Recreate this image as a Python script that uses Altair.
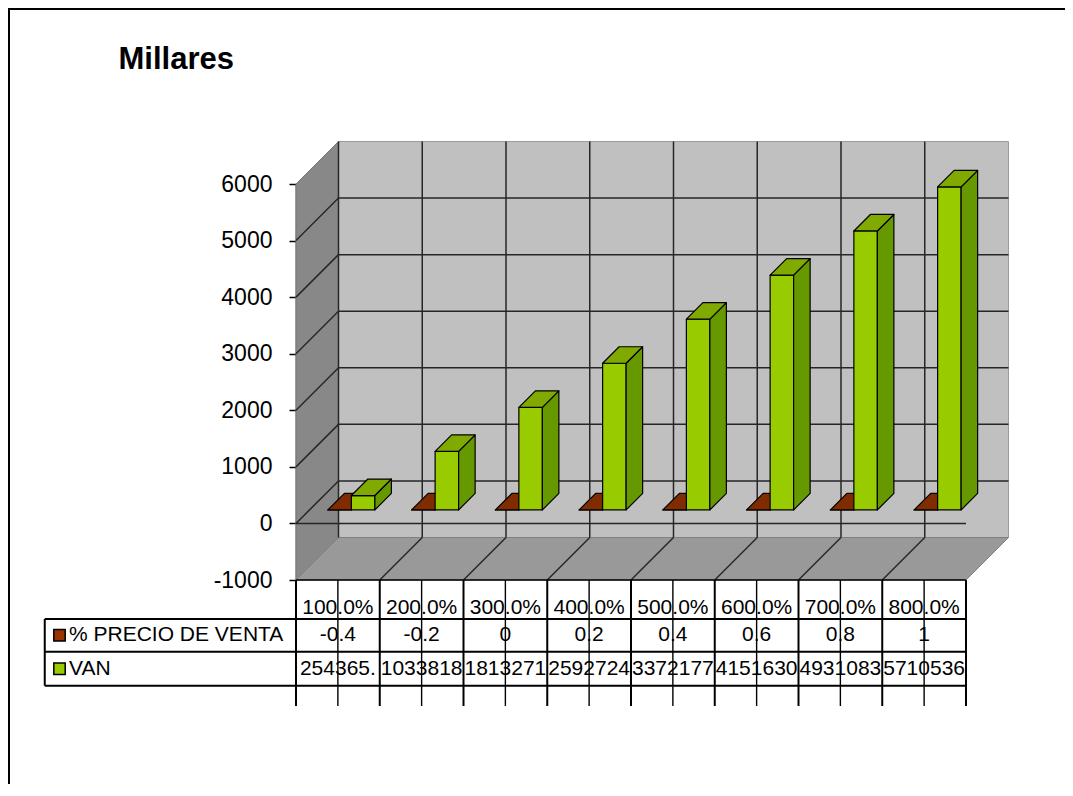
import altair as alt
import pandas as pd

# ---------------- data ----------------
categories = ["100.0%", "200.0%", "300.0%", "400.0%", "500.0%", "600.0%", "700.0%", "800.0%"]
precio_venta = [-0.4, -0.2, 0, 0.2, 0.4, 0.6, 0.8, 1]
precio_labels = ["-0.4", "-0.2", "0", "0.2", "0.4", "0.6", "0.8", "1"]
van = [254365, 1033818, 1813271, 2592724, 3372177, 4151630, 4931083, 5710536]
van_labels = ["254365.", "1033818", "1813271", "2592724", "3372177", "4151630", "4931083", "5710536"]
series_names = ["% PRECIO DE VENTA", "VAN"]
y_ticks = [-1000, 0, 1000, 2000, 3000, 4000, 5000, 6000]
display_unit = 1000
axis_title = "Millares"

# ---------------- style / layout ----------------
front_colors = ["#993300", "#99CC00"]
top_colors = ["#802B00", "#80AA00"]
side_colors = ["#662200", "#669900"]
FONT = "Liberation Sans"

W, H = 1057, 776
X_RANGE = [288, 958]
Y_RANGE = [572, 176]
n = len(categories)
y_min, y_max = y_ticks[0], y_ticks[-1]
col_px = (X_RANGE[1] - X_RANGE[0]) / n
unit_px = (Y_RANGE[0] - Y_RANGE[1]) / (y_max - y_min)
DEPTH = 42.5
DX = DEPTH / col_px
DY = DEPTH / unit_px
BAR_FRONT = 13.5 / DEPTH
BAR_BACK = 30.0 / DEPTH
BAR_W = 23.5 / col_px
LEGEND_COLS = 3

xs = alt.Scale(domain=[0, n], range=X_RANGE, nice=False, zero=False)
ys = alt.Scale(domain=[y_min, y_max], range=Y_RANGE, nice=False, zero=False)

y_axis = alt.Axis(
    values=y_ticks, orient="left", offset=-X_RANGE[0], grid=False,
    domain=True, domainColor="black", domainWidth=1.5,
    ticks=True, tickSize=7, tickColor="black", tickWidth=1.5,
    labelFontSize=23, labelColor="black", labelPadding=17, labelFont=FONT,
    labelExpr="'' + datum.value",
    title=axis_title, titleAngle=0, titleAlign="left", titleBaseline="alphabetic",
    titleX=-178, titleY=60, titleFontSize=31, titleFontWeight="bold",
    titleColor="black", titleFont=FONT,
)


def X(f):
    return alt.X(f, type="quantitative", scale=xs, axis=None)


def Y(f):
    return alt.Y(f, type="quantitative", scale=ys, axis=y_axis)


def YD(v):
    return alt.YDatum(v, type="quantitative", scale=ys, axis=y_axis)


# ---------------- walls ----------------
back_df = pd.DataFrame({"x": [DX], "x2": [n + DX], "y": [y_min + DY], "y2": [y_max + DY]})
side_df = pd.DataFrame({"x": [0, DX], "y": [y_max, y_max + DY], "y2": [y_min, y_min + DY]})
floor_df = pd.DataFrame({
    "x": [0, DX, n, n + DX],
    "y": [y_min, y_min + DY, y_min + DY, y_min + DY],
    "y2": [y_min, y_min, y_min, y_min + DY],
})

back = alt.Chart(back_df).mark_rect(fill="#C0C0C0", stroke="#9a9a9a", strokeWidth=1).encode(
    x=X("x"), x2=alt.X2("x2"), y=Y("y"), y2=alt.Y2("y2"))
side = alt.Chart(side_df).mark_area(orient="vertical", fill="#888888", stroke="#777777", strokeWidth=1,
                                    fillOpacity=1).encode(
    x=X("x"), y=Y("y"), y2=alt.Y2("y2"))
floor = alt.Chart(floor_df).mark_area(orient="vertical", fill="#999999", stroke="#808080", strokeWidth=1,
                                      fillOpacity=1).encode(
    x=X("x"), y=Y("y"), y2=alt.Y2("y2"))

# ---------------- gridlines ----------------
g = []
for v in y_ticks[1:-1]:
    g.append((DX, v + DY, n + DX, v + DY))      # back wall horizontal
    g.append((0, v, DX, v + DY))                # side wall diagonal
for k in range(n):
    g.append((k + DX, y_min + DY, k + DX, y_max + DY))  # back wall vertical
for k in range(1, n):
    g.append((k, y_min, k + DX, y_min + DY))    # floor diagonal
g.append((0, 0, n, 0))                          # front zero line
grid_df = pd.DataFrame(g, columns=["x", "y", "x2", "y2"])
grid = alt.Chart(grid_df).mark_rule(color="#262626", strokeWidth=1.5).encode(
    x=X("x"), x2=alt.X2("x2"), y=Y("y"), y2=alt.Y2("y2"))

# ---------------- 3D bars ----------------
face_domain, face_range = [], []
for s, name in enumerate(series_names):
    for face, cols in (("front", front_colors), ("side", side_colors), ("top", top_colors)):
        face_domain.append(f"{s}-{face}")
        face_range.append(cols[s])


def bar_rows(s, values):
    rows = []
    ddx = (BAR_BACK - BAR_FRONT) * DX
    ddy = (BAR_BACK - BAR_FRONT) * DY
    for k, val in enumerate(values):
        v = val / display_unit
        c = k + 0.5
        xl = (c - BAR_W if s == 0 else c) + BAR_FRONT * DX
        xr = xl + BAR_W
        base = BAR_FRONT * DY
        top = v + base
        faces = {
            "front": [(xl, top, base), (xr, top, base)],
            "side": [(xr, top, base), (xr + ddx, top + ddy, base + ddy)],
            "top": [(xl, top, top), (xl + ddx, top + ddy, top),
                     (xr, top + ddy, top), (xr + ddx, top + ddy, top + ddy)],
        }
        for face, pts in faces.items():
            for (x, y, y2) in pts:
                rows.append({"shape": f"{s}-{k}-{face}", "face": f"{s}-{face}",
                             "x": x, "y": y, "y2": y2})
    return pd.DataFrame(rows)


def bars(s, values):
    return alt.Chart(bar_rows(s, values)).mark_area(
        orient="vertical", stroke="black", strokeWidth=1.2, strokeJoin="round", fillOpacity=1
    ).encode(
        x=X("x"), y=Y("y"), y2=alt.Y2("y2"),
        detail="shape:N",
        fill=alt.Fill("face:N", scale=alt.Scale(domain=face_domain, range=face_range), legend=None),
    )


bars_precio = bars(0, precio_venta)
bars_van = bars(1, van)

# ---------------- data table ----------------
ROW_HDR, ROW1, ROW2 = 599.5, 627.3, 660.7
LINES_Y = [611, 643.7, 677.7]
TABLE_BOTTOM = 698

vert_rows = [{"x": k, "w": 2.0} for k in range(n + 1)] + [{"x": k + 0.5, "w": 1.4} for k in range(n)]
vert_df = pd.DataFrame(vert_rows)
table_vert = alt.Chart(vert_df).mark_rule(color="black").encode(
    x=X("x"), y=YD(y_min), y2=alt.value(TABLE_BOTTOM),
    strokeWidth=alt.StrokeWidth("w:Q", scale=None))

cat_axis_line = alt.Chart(pd.DataFrame({"x": [0], "x2": [n]})).mark_rule(color="black", strokeWidth=1.5).encode(
    x=X("x"), x2=alt.X2("x2"), y=YD(y_min))

table_h = [
    alt.Chart(pd.DataFrame({"x": [-LEGEND_COLS], "x2": [n]})).mark_rule(color="black", strokeWidth=2).encode(
        x=X("x"), x2=alt.X2("x2"), y=alt.value(py))
    for py in LINES_Y
]
legend_left = alt.Chart(pd.DataFrame({"x": [-LEGEND_COLS]})).mark_rule(color="black", strokeWidth=2).encode(
    x=X("x"), y=alt.value(LINES_Y[0]), y2=alt.value(LINES_Y[2]))

tbl_df = pd.DataFrame({"c": [k + 0.5 for k in range(n)], "cat": categories,
                       "p": precio_labels, "v": van_labels})
txt = dict(fontSize=21, font=FONT, color="black", align="center", baseline="middle")
hdr_text = alt.Chart(tbl_df).mark_text(**txt).encode(x=X("c"), y=alt.value(ROW_HDR), text="cat:N")
p_text = alt.Chart(tbl_df).mark_text(**txt).encode(x=X("c"), y=alt.value(ROW1), text="p:N")
v_text = alt.Chart(tbl_df).mark_text(**txt).encode(x=X("c"), y=alt.value(ROW2), text="v:N")

leg_layers = []
for s, (name, ry) in enumerate(zip(series_names, [ROW1, ROW2])):
    ldf = pd.DataFrame({"name": [name]})
    leg_layers.append(alt.Chart(ldf).mark_square(size=130, fill=front_colors[s], stroke="black",
                                                 strokeWidth=1.5, opacity=1).encode(
        x=alt.value(51.5), y=alt.value(ry)))
    leg_layers.append(alt.Chart(ldf).mark_text(fontSize=21, font=FONT, color="black", align="left",
                                               baseline="middle").encode(
        x=alt.value(61), y=alt.value(ry), text="name:N"))

# ---------------- outer frame ----------------
one = pd.DataFrame({"d": [0]})
frame_left = alt.Chart(one).mark_rule(color="black", strokeWidth=2).encode(
    x=alt.value(1), y=alt.value(0), y2=alt.value(H))
frame_top = alt.Chart(one).mark_rule(color="black", strokeWidth=2).encode(
    y=alt.value(1), x=alt.value(0), x2=alt.value(W))

chart = alt.layer(
    back, side, floor, grid, bars_precio, bars_van,
    table_vert, cat_axis_line, *table_h, legend_left,
    hdr_text, p_text, v_text, *leg_layers, frame_left, frame_top,
).properties(
    width=W, height=H, autosize=alt.AutoSizeParams(type="none"), padding=0,
).configure_view(strokeWidth=0).configure(font=FONT, background="white")

chart.save("out.html", embed_options={"renderer": "svg", "actions": False})
